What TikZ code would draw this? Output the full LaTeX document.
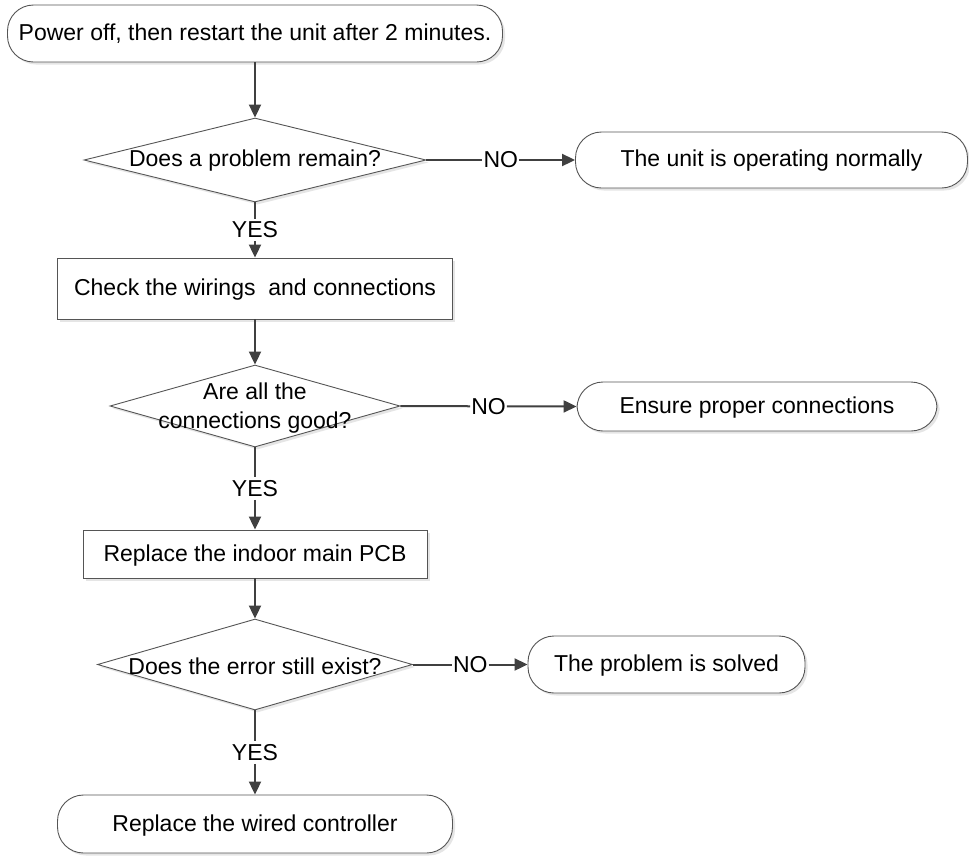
\documentclass[tikz,border=0pt]{standalone}
\usepackage{fontspec}
\setmainfont{Liberation Sans}
\usetikzlibrary{shapes.geometric,arrows.meta,shadows}
\definecolor{linec}{HTML}{404040}
\definecolor{borderc}{HTML}{555555}
\begin{document}
\begin{tikzpicture}[x=1pt,y=-1pt,
  every node/.style={font=\fontsize{23}{29}\selectfont, text=black},
  shp/.style={draw=borderc, line width=0.9pt, fill=white, inner sep=0pt,
    drop shadow={shadow xshift=2.5pt, shadow yshift=-2.5pt, fill=black!10, opacity=1}},
  term/.style={shp, rectangle, rounded corners=26pt},
  proc/.style={shp, rectangle},
  dia/.style={shp, diamond},
  seg/.style={draw=linec, line width=2pt},
  conn/.style={seg, -{Triangle[length=13pt,width=12pt]}},
  nolbl/.style={inner xsep=1pt, inner ysep=2pt, pos=0.5},
  yeslbl/.style={inner xsep=2pt, inner ysep=3pt, pos=0.5}
]
\fill[white] (0,0) rectangle (969,855);
\useasboundingbox (0,0) rectangle (969,855);

% shapes
\node[term, minimum width=495pt, minimum height=57pt] (start) at (255,33.5) {Power off, then restart the unit after 2 minutes.};

\node[dia, minimum width=342pt, minimum height=84pt] (d1) at (255,160) {};
\node (d1t) at (255,161) {Does a problem remain?};

\node[term, minimum width=392pt, minimum height=56pt] (ok) at (771.5,160) {};
\node (okt) at (771.5,161) {The unit is operating normally};

\node[proc, minimum width=395pt, minimum height=61pt] (p1) at (255,288.5) {};
\node (p1t) at (255,290) {Check the wirings\ \ and connections};

\node[dia, minimum width=290pt, minimum height=82pt] (d2) at (255,406) {};
\node[align=center] (d2t) at (255,408) {Are all the\\connections good?};

\node[term, minimum width=360pt, minimum height=49pt] (ens) at (757,406.5) {};
\node (enst) at (757,408) {Ensure proper connections};

\node[proc, minimum width=344pt, minimum height=48pt] (p2) at (255,554) {};
\node (p2t) at (255,555.5) {Replace the indoor main PCB};

\node[dia, minimum width=315pt, minimum height=91pt] (d3) at (255,664.5) {};
\node (d3t) at (255,666) {Does the error still exist?};

\node[term, minimum width=277pt, minimum height=57pt] (solved) at (666.5,664.5) {};
\node (solvedt) at (666.5,666) {The problem is solved};

\node[term, minimum width=395pt, minimum height=58pt] (wired) at (255,824) {};
\node (wiredt) at (255,825.5) {Replace the wired controller};

% label positions
\path (d1.east) -- node[nolbl] (no1) {NO} (ok.west);
\path (d1.south) -- node[yeslbl] (yes1) {YES} (p1.north);
\path (d2.east) -- node[nolbl] (no2) {NO} (ens.west);
\path (d2.south) -- node[yeslbl] (yes2) {YES} (p2.north);
\path (d3.east) -- node[nolbl] (no3) {NO} (solved.west);
\path (d3.south) -- node[yeslbl] (yes3) {YES} (wired.north);

% connectors
\draw[conn] (start.south) -- (d1.north);
\draw[seg] (d1.east) -- (no1.west);
\draw[conn] (no1.east) -- (ok.west);
\draw[seg] (d1.south) -- (yes1.north);
\draw[conn] (yes1.south) -- (p1.north);
\draw[conn] (p1.south) -- (d2.north);
\draw[seg] (d2.east) -- (no2.west);
\draw[conn] (no2.east) -- (ens.west);
\draw[seg] (d2.south) -- (yes2.north);
\draw[conn] (yes2.south) -- (p2.north);
\draw[conn] (p2.south) -- (d3.north);
\draw[seg] (d3.east) -- (no3.west);
\draw[conn] (no3.east) -- (solved.west);
\draw[seg] (d3.south) -- (yes3.north);
\draw[conn] (yes3.south) -- (wired.north);
\end{tikzpicture}
\end{document}
